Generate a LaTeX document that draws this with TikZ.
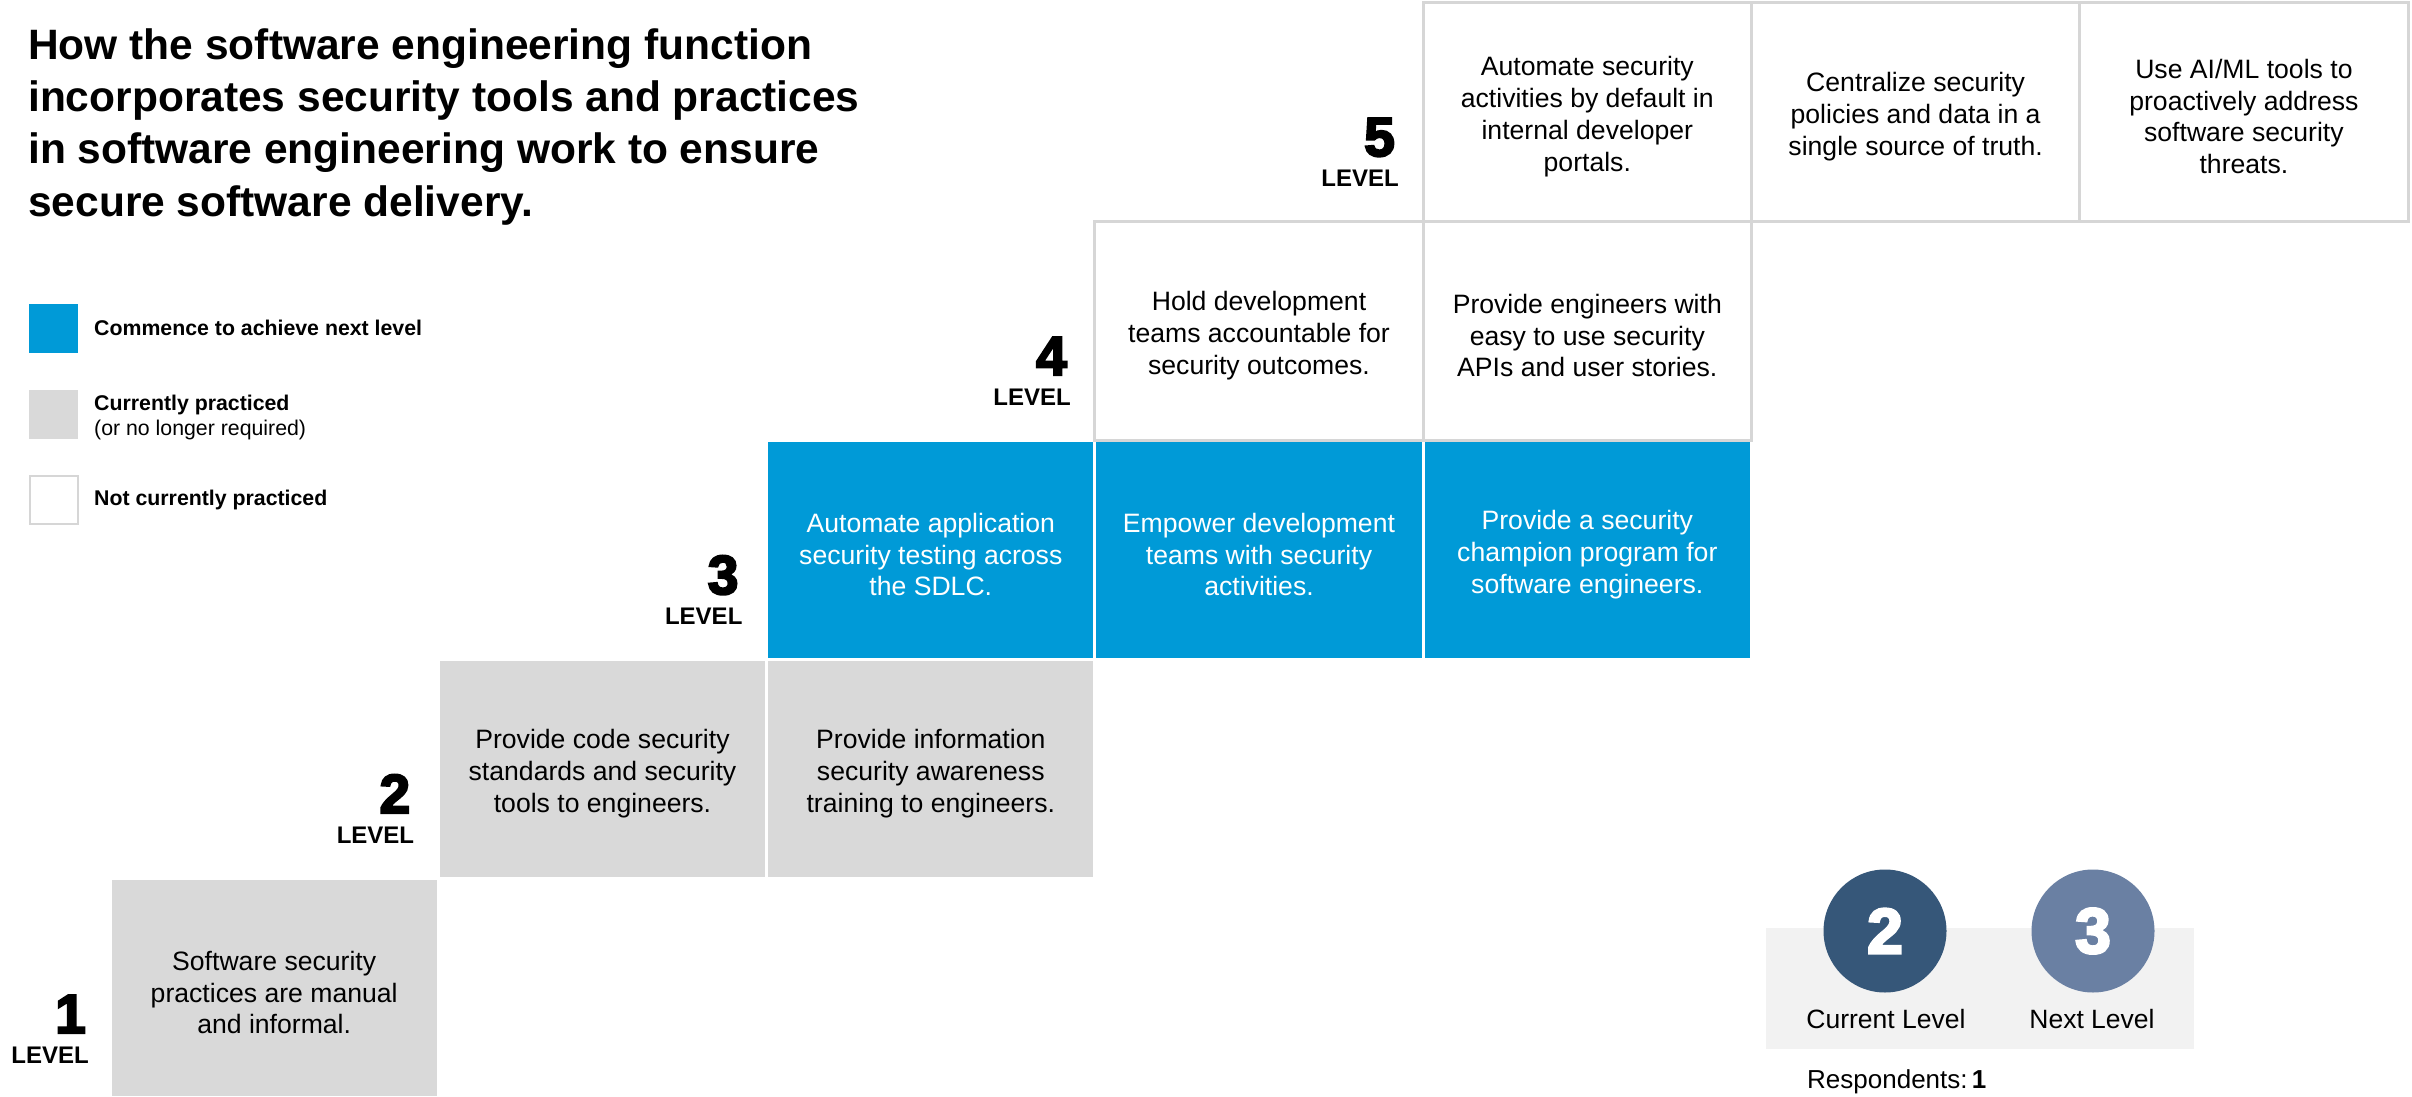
\documentclass[tikz,border=0pt]{standalone}
\usepackage{fontspec}
\setmainfont{Liberation Sans}
\newfontfamily\heavyfont{Liberation Sans}[FakeBold=4]
\definecolor{cblue}{HTML}{009AD7}
\definecolor{cgray}{HTML}{D9D9D9}
\definecolor{cborder}{HTML}{D6D6D6}
\definecolor{cdark}{HTML}{365779}
\definecolor{clight}{HTML}{6A80A3}
\definecolor{cband}{HTML}{F2F2F2}
\begin{document}
\begin{tikzpicture}[x=1pt,y=-1pt,
  cellbase/.style={inner sep=0pt},
  celltext/.style={inner sep=0pt,align=center,font=\fontsize{26.6}{31.8}\selectfont},
  graycell/.style={cellbase,minimum width=325.3pt,minimum height=216pt,fill=cgray},
  bluecell/.style={cellbase,minimum width=325.3pt,minimum height=216pt,fill=cblue},
  whitecell/.style={cellbase,minimum width=328.3pt,minimum height=219pt,fill=white,draw=cborder,line width=3pt},
  lvnum/.style={anchor=base east,inner sep=0pt,font=\heavyfont\bfseries\fontsize{55}{55}\selectfont},
  lvword/.style={anchor=base east,inner sep=0pt,font=\bfseries\fontsize{24}{24}\selectfont},
  titleline/.style={anchor=base west,inner sep=0pt,font=\bfseries\fontsize{42.5}{50}\selectfont},
  legbox/.style={minimum size=49pt,inner sep=0pt},
  legtext/.style={anchor=base west,inner sep=0pt,font=\fontsize{21.3}{25}\selectfont},
  lvcircle/.style={circle,minimum size=123pt,inner sep=0pt,text=white,font=\heavyfont\bfseries\fontsize{64}{64}\selectfont},
  smalltext/.style={anchor=base,inner sep=0pt,font=\fontsize{26.5}{30}\selectfont}
]
\useasboundingbox (0,0) rectangle (2412,1097);
\fill[white] (0,0) rectangle (2412,1097);

% title
\node[titleline] (t1) at (28,60) {How the software engineering function};
\node[titleline] (t2) at (28,112) {incorporates security tools and practices};
\node[titleline] (t3) at (28,164) {in software engineering work to ensure};
\node[titleline] (t4) at (28,216) {secure software delivery.};

% legend
\node[legbox,fill=cblue] (lb1) at (53.5,328.5) {};
\node[legbox,fill=cgray] (lb2) at (53.5,414.5) {};
\node[legbox,fill=white,draw=cborder,line width=2pt,minimum size=48pt] (lb3) at (53.5,499.5) {};
\node[legtext] (lt1) at (94,335) {\bfseries Commence to achieve next level};
\node[legtext] (lt2) at (94,410) {\bfseries Currently practiced};
\node[legtext] (lt2b) at (94,435) {(or no longer required)};
\node[legtext] (lt3) at (94,505) {\bfseries Not currently practiced};

% level 5 (white)
\node[whitecell] (c55) at (1587.3,112) {};
\node[whitecell] (c56) at (1915.6,112) {};
\node[whitecell] (c57) at (2243.9,112) {};
% level 4 (white)
\node[whitecell] (c44) at (1259.0,331) {};
\node[whitecell] (c45) at (1587.3,331) {};
% level 3 (blue)
\node[bluecell] (c33) at (930.8,550) {};
\node[bluecell] (c34) at (1259.0,550) {};
\node[bluecell] (c35) at (1587.3,550) {};
% level 2 (gray)
\node[graycell] (c22) at (602.5,769) {};
\node[graycell] (c23) at (930.8,769) {};
% level 1 (gray)
\node[graycell] (c11) at (274.2,988) {};

% cell texts
\node[celltext] (c55t) at ([yshift=-4.5pt]c55.center) {Automate security\\activities by default in\\internal developer\\portals.};
\node[celltext] (c56t) at ([yshift=-4.5pt]c56.center) {Centralize security\\policies and data in a\\single source of truth.};
\node[celltext] (c57t) at ([yshift=-4.5pt]c57.center) {Use AI/ML tools to\\proactively address\\software security\\threats.};
\node[celltext] (c44t) at ([yshift=-4.5pt]c44.center) {Hold development\\teams accountable for\\security outcomes.};
\node[celltext] (c45t) at ([yshift=-4.5pt]c45.center) {Provide engineers with\\easy to use security\\APIs and user stories.};
\node[celltext,text=white] (c33t) at ([yshift=-4.5pt]c33.center) {Automate application\\security testing across\\the SDLC.};
\node[celltext,text=white] (c34t) at ([yshift=-4.5pt]c34.center) {Empower development\\teams with security\\activities.};
\node[celltext,text=white] (c35t) at ([yshift=-4.5pt]c35.center) {Provide a security\\champion program for\\software engineers.};
\node[celltext] (c22t) at ([yshift=-4.5pt]c22.center) {Provide code security\\standards and security\\tools to engineers.};
\node[celltext] (c23t) at ([yshift=-4.5pt]c23.center) {Provide information\\security awareness\\training to engineers.};
\node[celltext] (c11t) at ([yshift=-4.5pt]c11.center) {Software security\\practices are manual\\and informal.};

% level labels
\node[lvnum] (n5) at (1395,156) {5};
\node[lvword] (w5) at (1399,186.5) {LEVEL};
\node[lvnum] (n4) at (1066.9,375) {4};
\node[lvword] (w4) at (1070.9,405.5) {LEVEL};
\node[lvnum] (n3) at (738.6,594) {3};
\node[lvword] (w3) at (742.6,624.5) {LEVEL};
\node[lvnum] (n2) at (410.3,813) {2};
\node[lvword] (w2) at (414.3,843.5) {LEVEL};
\node[lvnum] (n1) at (86,1033) {1};
\node[lvword] (w1) at (89,1063.5) {LEVEL};

% current / next level panel
\node[fill=cband,minimum width=428pt,minimum height=121pt,inner sep=0pt] (band) at (1980,988.5) {};
\node[lvcircle,fill=cdark] (cur) at (1885,931) {2};
\node[lvcircle,fill=clight] (nxt) at (2093,931) {3};
\node[smalltext] (curl) at (1886,1028) {Current Level};
\node[smalltext] (nxtl) at (2092,1028) {Next Level};
\node[anchor=base west,inner sep=0pt,font=\fontsize{26}{30}\selectfont] (resp) at (1807,1088) {Respondents:\,\textbf{1}};
\end{tikzpicture}
\end{document}
